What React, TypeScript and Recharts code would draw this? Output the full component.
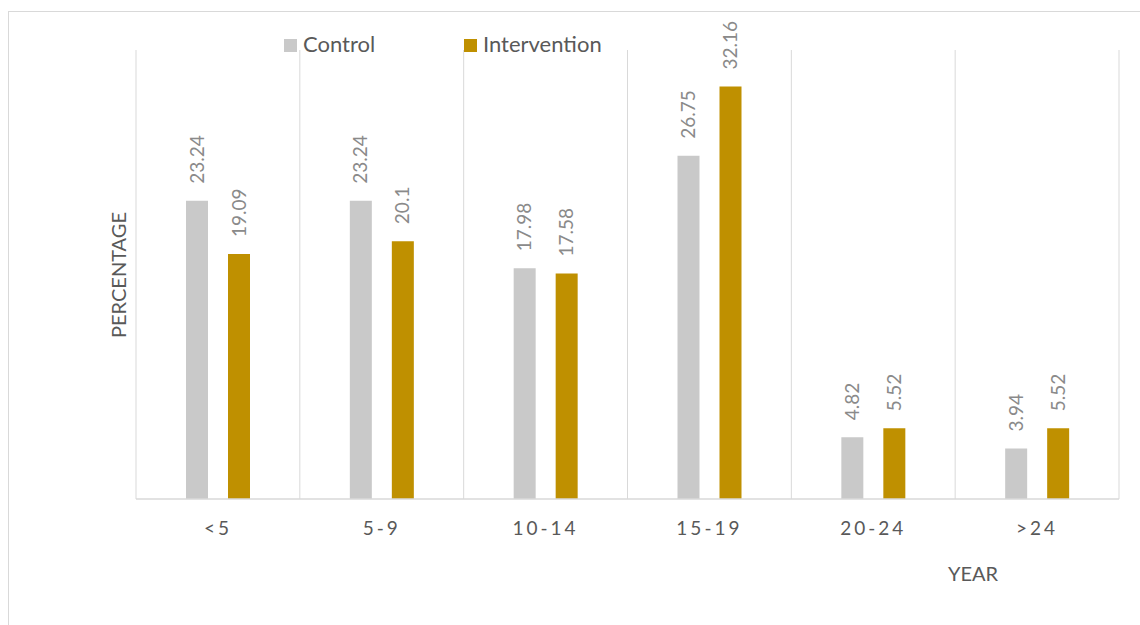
import { BarChart, Bar, XAxis, YAxis, CartesianGrid, LabelList } from 'recharts';

const AGE_GROUPS = ['<5', '5-9', '10-14', '15-19', '20-24', '>24'];
const CONTROL = [23.24, 23.24, 17.98, 26.75, 4.82, 3.94];
const INTERVENTION = [19.09, 20.1, 17.58, 32.16, 5.52, 5.52];
const SERIES_NAMES = ['Control', 'Intervention'];
const COLORS = ['#c9c9c9', '#bf9000'];
const Y_MAX = 35;

const FONT = 'Lato, "Open Sans", sans-serif';
const GRID = '#d9d9d9';

const chartData = AGE_GROUPS.map((group, i) => ({
  group,
  control: CONTROL[i],
  intervention: INTERVENTION[i],
}));

// value printed vertically above each bar
const ValueLabel = (props: any) => {
  const { x, y, width, value } = props;
  const cx = Number(x) + Number(width) / 2;
  const top = Number(y) - 17;
  return (
    <text
      transform={`translate(${cx}, ${top}) rotate(-90)`}
      dy="0.35em"
      textAnchor="start"
      fontFamily={FONT}
      fontSize={19}
      fill="#8a8a8a"
    >
      {value}
    </text>
  );
};

const GroupTick = (props: any) => {
  const { x, y, payload } = props;
  return (
    <text
      x={x}
      y={Number(y) + 36}
      textAnchor="middle"
      fontFamily={FONT}
      fontSize={19}
      letterSpacing={3}
      fill="#595959"
    >
      {payload.value}
    </text>
  );
};

// vertical lines on the category boundaries, not the centres
const boundaryLines = ({ offset }: any) => {
  const step = offset.width / AGE_GROUPS.length;
  return Array.from({ length: AGE_GROUPS.length + 1 }, (_, i) => offset.left + i * step);
};

export default function App() {
  return (
    <div style={{ position: 'absolute', left: 0, top: 0, width: 1140, height: 625, background: '#fff' }}>
      <div
        style={{
          position: 'absolute',
          left: 8,
          top: 11,
          width: 1132,
          height: 614,
          borderTop: `1px solid ${GRID}`,
          borderLeft: `1px solid ${GRID}`,
        }}
      />
      <BarChart
        width={1140}
        height={625}
        data={chartData}
        margin={{ top: 50, right: 21, left: 136, bottom: 96 }}
        barSize={22}
        barGap={20}
      >
        <CartesianGrid
          horizontal={false}
          stroke={GRID}
          verticalCoordinatesGenerator={boundaryLines}
        />
        <XAxis
          dataKey="group"
          height={30}
          axisLine={{ stroke: GRID, strokeWidth: 1.3 }}
          tickLine={false}
          tickSize={0}
          tickMargin={0}
          tick={<GroupTick />}
          interval={0}
        />
        <YAxis hide width={0} domain={[0, Y_MAX]} />
        <Bar dataKey="control" name={SERIES_NAMES[0]} fill={COLORS[0]} isAnimationActive={false}>
          <LabelList dataKey="control" content={<ValueLabel />} />
        </Bar>
        <Bar dataKey="intervention" name={SERIES_NAMES[1]} fill={COLORS[1]} isAnimationActive={false}>
          <LabelList dataKey="intervention" content={<ValueLabel />} />
        </Bar>
      </BarChart>

      {/* legend */}
      {[
        { left: 284, textLeft: 303 },
        { left: 464, textLeft: 483 },
      ].map((pos, i) => (
        <div key={SERIES_NAMES[i]}>
          <div
            style={{
              position: 'absolute',
              left: pos.left,
              top: 39,
              width: 13,
              height: 13,
              background: COLORS[i],
            }}
          />
          <div
            style={{
              position: 'absolute',
              left: pos.textLeft,
              top: 30,
              fontFamily: FONT,
              fontSize: 22,
              lineHeight: '28px',
              color: '#595959',
              whiteSpace: 'nowrap',
            }}
          >
            {SERIES_NAMES[i]}
          </div>
        </div>
      ))}

      {/* axis titles */}
      <div
        style={{
          position: 'absolute',
          left: 118,
          top: 275,
          transform: 'translate(-50%, -50%) rotate(-90deg)',
          fontFamily: FONT,
          fontSize: 20,
          color: '#595959',
          whiteSpace: 'nowrap',
        }}
      >
        PERCENTAGE
      </div>
      <div
        style={{
          position: 'absolute',
          left: 973,
          top: 573,
          transform: 'translate(-50%, -50%)',
          fontFamily: FONT,
          fontSize: 20,
          color: '#595959',
          whiteSpace: 'nowrap',
        }}
      >
        YEAR
      </div>
    </div>
  );
}
